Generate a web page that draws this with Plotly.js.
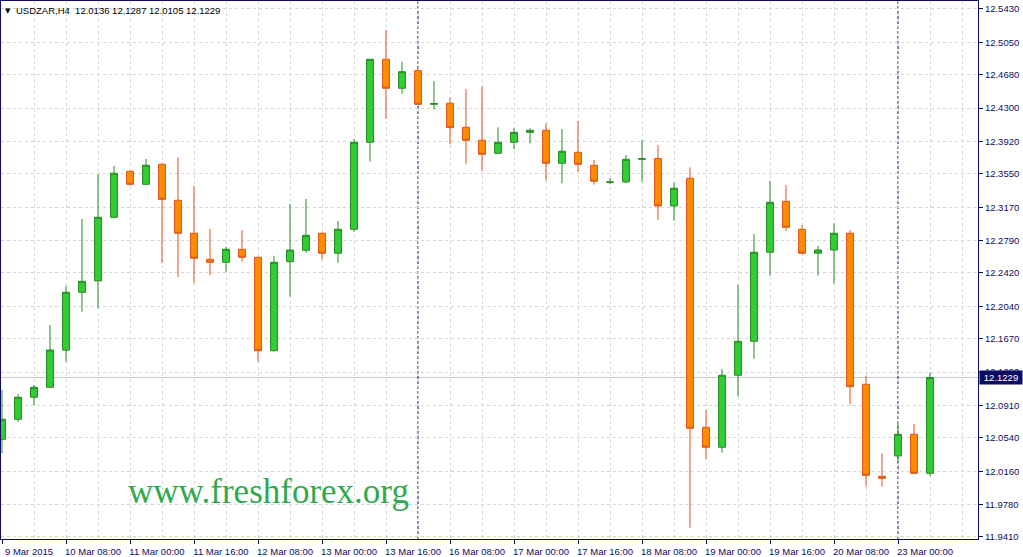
<!DOCTYPE html>
<html>
<head>
<meta charset="utf-8">
<script src="https://cdn.plot.ly/plotly-3.0.1.min.js"></script>
<style>
  html, body { margin: 0; padding: 0; background: #ffffff; }
  #chart { width: 1023px; height: 557px; }
</style>
</head>
<body>
<div id="chart"></div>
<script>
// ---- Data (USDZAR, H4) ----
const times = [
  '9 Mar 16:00', '9 Mar 20:00',
  '10 Mar 00:00', '10 Mar 04:00', '10 Mar 08:00', '10 Mar 12:00', '10 Mar 16:00', '10 Mar 20:00',
  '11 Mar 00:00', '11 Mar 04:00', '11 Mar 08:00', '11 Mar 12:00', '11 Mar 16:00', '11 Mar 20:00',
  '12 Mar 00:00', '12 Mar 04:00', '12 Mar 08:00', '12 Mar 12:00', '12 Mar 16:00', '12 Mar 20:00',
  '13 Mar 00:00', '13 Mar 04:00', '13 Mar 08:00', '13 Mar 12:00', '13 Mar 16:00', '13 Mar 20:00',
  '16 Mar 00:00', '16 Mar 04:00', '16 Mar 08:00', '16 Mar 12:00', '16 Mar 16:00', '16 Mar 20:00',
  '17 Mar 00:00', '17 Mar 04:00', '17 Mar 08:00', '17 Mar 12:00', '17 Mar 16:00', '17 Mar 20:00',
  '18 Mar 00:00', '18 Mar 04:00', '18 Mar 08:00', '18 Mar 12:00', '18 Mar 16:00', '18 Mar 20:00',
  '19 Mar 00:00', '19 Mar 04:00', '19 Mar 08:00', '19 Mar 12:00', '19 Mar 16:00', '19 Mar 20:00',
  '20 Mar 00:00', '20 Mar 04:00', '20 Mar 08:00', '20 Mar 12:00', '20 Mar 16:00', '20 Mar 20:00',
  '23 Mar 00:00', '23 Mar 04:00', '23 Mar 08:00'
];
const open = [
  12.0524, 12.0752, 12.1003, 12.1117, 12.1540, 12.2200, 12.2330, 12.3055, 12.3580, 12.3431,
  12.3659, 12.3249, 12.2873, 12.2576, 12.2542, 12.2690, 12.2599, 12.1534, 12.2549, 12.2679,
  12.2873, 12.2645, 12.2918, 12.3910, 12.4857, 12.4526, 12.4727, 12.4343, 12.4355, 12.4081,
  12.3933, 12.3785, 12.3910, 12.4024, 12.4047, 12.3671, 12.3796, 12.3648, 12.3454, 12.3458,
  12.3716, 12.3725, 12.3184, 12.3500, 12.0661, 12.0433, 12.1254, 12.1641, 12.2656, 12.3237,
  12.2918, 12.2645, 12.2682, 12.2873, 12.1151, 12.0102, 12.0334, 12.0581, 12.0136
];
const high = [
  12.1086, 12.1037, 12.1143, 12.1827, 12.2272, 12.3036, 12.3549, 12.3640, 12.3585, 12.3720,
  12.3671, 12.3739, 12.3412, 12.2922, 12.2720, 12.2910, 12.2605, 12.2614, 12.3207, 12.3264,
  12.2884, 12.3013, 12.3948, 12.4857, 12.5191, 12.4829, 12.4754, 12.4609, 12.4419, 12.4518,
  12.4544, 12.4081, 12.4070, 12.4070, 12.4127, 12.4062, 12.4153, 12.3708, 12.3503, 12.3765,
  12.3936, 12.3879, 12.3450, 12.3625, 12.0858, 12.1322, 12.2283, 12.2865, 12.3469, 12.3423,
  12.2967, 12.2728, 12.2987, 12.2910, 12.1246, 12.0364, 12.0706, 12.0698, 12.1287
];
const low = [
  12.0364, 12.0725, 12.0915, 12.1117, 12.1409, 12.1979, 12.2018, 12.3044, 12.3415, 12.3431,
  12.2531, 12.2371, 12.2303, 12.2397, 12.2435, 12.2549, 12.1409, 12.1523, 12.2150, 12.2651,
  12.2576, 12.2537, 12.2891, 12.3689, 12.4176, 12.4461, 12.4335, 12.4286, 12.3887, 12.3659,
  12.3586, 12.3780, 12.3830, 12.3899, 12.3472, 12.3443, 12.3575, 12.3427, 12.3431, 12.3443,
  12.3461, 12.3024, 12.3016, 11.9516, 12.0299, 12.0371, 12.1010, 12.1443, 12.2389, 12.2902,
  12.2633, 12.2389, 12.2298, 12.0926, 11.9984, 11.9984, 12.0269, 12.0125, 12.0105
];
const close = [
  12.0752, 12.1003, 12.1117, 12.1542, 12.2200, 12.2325, 12.3055, 12.3557, 12.3431, 12.3648,
  12.3260, 12.2873, 12.2588, 12.2542, 12.2690, 12.2599, 12.1534, 12.2542, 12.2682, 12.2850,
  12.2645, 12.2918, 12.3910, 12.4857, 12.4526, 12.4715, 12.4343, 12.4352, 12.4077, 12.3933,
  12.3773, 12.3910, 12.4024, 12.4047, 12.3671, 12.3808, 12.3659, 12.3466, 12.3458, 12.3716,
  12.3725, 12.3184, 12.3386, 12.0649, 12.0433, 12.1254, 12.1641, 12.2656, 12.3226, 12.2941,
  12.2645, 12.2682, 12.2873, 12.1124, 12.0113, 12.0079, 12.0581, 12.0136, 12.1229
];

// axis tick labels
const tickTimes = ['9 Mar 16:00', '10 Mar 08:00', '11 Mar 00:00', '11 Mar 16:00', '12 Mar 08:00',
  '13 Mar 00:00', '13 Mar 16:00', '16 Mar 08:00', '17 Mar 00:00', '17 Mar 16:00', '18 Mar 08:00',
  '19 Mar 00:00', '19 Mar 16:00', '20 Mar 08:00', '23 Mar 00:00'];
const tickLabels = ['9 Mar 2015', '10 Mar 08:00', '11 Mar 00:00', '11 Mar 16:00', '12 Mar 08:00',
  '13 Mar 00:00', '13 Mar 16:00', '16 Mar 08:00', '17 Mar 00:00', '17 Mar 16:00', '18 Mar 08:00',
  '19 Mar 00:00', '19 Mar 16:00', '20 Mar 08:00', '23 Mar 00:00'];
const priceLabels = ['12.5430', '12.5050', '12.4680', '12.4300', '12.3920', '12.3550', '12.3170',
  '12.2790', '12.2420', '12.2040', '12.1670', '12.1290', '12.0910', '12.0540', '12.0160',
  '11.9780', '11.9410'];
const weekStarts = ['16 Mar 00:00', '23 Mar 00:00'];
const symbol = 'USDZAR,H4';

// ---- Build ----
const idx = times.map((t, i) => i);
const n = times.length;
const lastO = open[n - 1], lastH = high[n - 1], lastL = low[n - 1], lastC = close[n - 1];
const navy = '#0c0c64';
const font = 'Liberation Sans, Arial, sans-serif';

const trace = {
  type: 'candlestick',
  x: idx,
  open: open, high: high, low: low, close: close,
  increasing: { fillcolor: '#32CD32', line: { color: '#2a8a2a', width: 1 } },
  decreasing: { fillcolor: '#FF8C00', line: { color: '#e0551a', width: 1 } },
  whiskerwidth: 0,
  hoverinfo: 'skip',
  showlegend: false
};

const shapes = [];
// current price line
shapes.push({
  type: 'line', xref: 'paper', x0: 0, x1: 1, yref: 'y', y0: lastC, y1: lastC,
  line: { color: '#c8c8c8', width: 1 }, layer: 'below'
});
// week separators
weekStarts.forEach(t => {
  const k = times.indexOf(t);
  shapes.push({
    type: 'line', xref: 'x', x0: k, x1: k, yref: 'paper', y0: 0, y1: 1,
    line: { color: '#10105e', width: 1, dash: '3px,2px' }, layer: 'below'
  });
});

const annotations = [
  {
    xref: 'paper', yref: 'paper', x: 0, y: 1, xanchor: 'left', yanchor: 'top',
    xshift: 2, yshift: -4, showarrow: false,
    text: '▼', font: { family: 'DejaVu Sans', size: 7, color: '#000000' }
  },
  {
    xref: 'paper', yref: 'paper', x: 0, y: 1, xanchor: 'left', yanchor: 'top',
    xshift: 13, yshift: -2, showarrow: false,
    text: symbol + '&nbsp;&nbsp;' + [lastO, lastH, lastL, lastC].map(v => v.toFixed(4)).join(' '),
    font: { family: font, size: 9.5, color: '#000000' }
  },
  {
    xref: 'paper', yref: 'paper', x: 0.128, y: 0.088, xanchor: 'left', yanchor: 'middle',
    showarrow: false, text: 'www.freshforex.org',
    font: { family: 'Liberation Serif, Times New Roman, serif', size: 35, color: '#2eaa4e' }
  },
  {
    xref: 'paper', yref: 'y', x: 1, y: lastC, xanchor: 'left', yanchor: 'middle',
    xshift: 1, showarrow: false, text: lastC.toFixed(4),
    bgcolor: '#0c0c64', borderpad: 1, width: 40,
    font: { family: font, size: 9.5, color: '#ffffff' }
  }
];

const layout = {
  width: 1023, height: 557,
  margin: { l: 1, r: 45, t: 1, b: 18, pad: 0 },
  paper_bgcolor: '#ffffff', plot_bgcolor: '#ffffff',
  boxgap: 0.38,
  showlegend: false,
  hovermode: false,
  xaxis: {
    type: 'linear',
    range: [-0.0625, 61],
    rangeslider: { visible: false },
    tickmode: 'array',
    tickvals: tickTimes.map(t => times.indexOf(t)),
    ticktext: tickLabels,
    ticks: 'outside', ticklen: 4, tickcolor: navy,
    ticklabelshift: 27,
    tickfont: { family: font, size: 9.5, color: navy },
    showgrid: true, gridcolor: '#d6d6d6', griddash: '3px,3px', gridwidth: 1,
    minor: { tick0: 0, dtick: 2, showgrid: true, gridcolor: '#d6d6d6', griddash: '3px,3px', ticks: '' },
    showline: true, linecolor: navy, linewidth: 1, mirror: true,
    zeroline: false, fixedrange: true
  },
  yaxis: {
    side: 'right',
    range: [11.9387, 12.5521],
    tickmode: 'array',
    tickvals: priceLabels.map(Number),
    ticktext: priceLabels,
    ticks: 'outside', ticklen: 4, tickcolor: navy,
    tickfont: { family: font, size: 9.5, color: navy },
    showgrid: true, gridcolor: '#d6d6d6', griddash: '3px,3px', gridwidth: 1,
    showline: true, linecolor: navy, linewidth: 1, mirror: true,
    zeroline: false, fixedrange: true
  },
  shapes: shapes,
  annotations: annotations
};

Plotly.newPlot('chart', [trace], layout, { displayModeBar: false, staticPlot: true });
</script>
</body>
</html>
